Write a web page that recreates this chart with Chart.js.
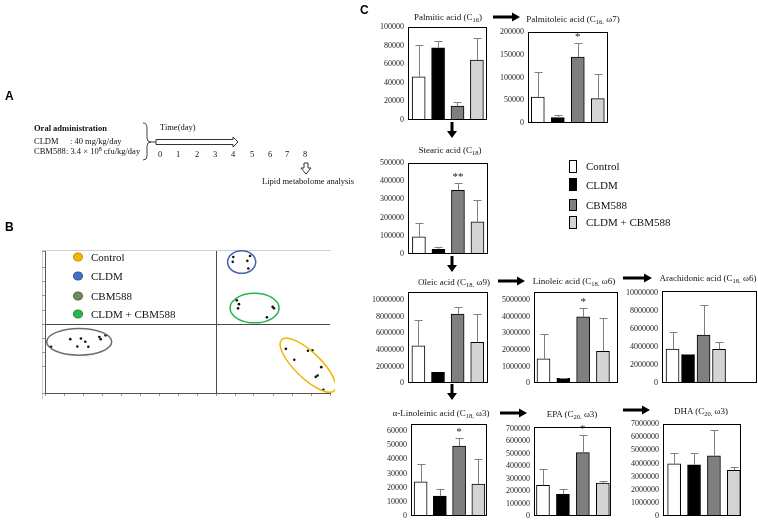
<!DOCTYPE html>
<html><head><meta charset="utf-8">
<script src="https://cdn.jsdelivr.net/npm/chart.js@4.4.1/dist/chart.umd.min.js"></script>
<style>
html,body{margin:0;padding:0;background:#fff;}
#root{position:relative;width:758px;height:520px;overflow:hidden;font-family:'Liberation Serif','Times New Roman',serif;color:#111;}
.t{position:absolute;white-space:nowrap;line-height:1;will-change:transform;}
.pl{font-family:'Liberation Sans',Arial,sans-serif;font-weight:bold;font-size:12px;color:#000;}
.ct{font-size:9px;transform:translate(-50%,-50%);color:#111;}
.a{font-size:8.5px;transform:translateY(-50%);}
.dn{font-size:8.5px;transform:translate(-50%,-50%);}
.lg{font-size:11px;transform:translateY(-50%);color:#111;}
.sq{position:absolute;border:1px solid #000;box-sizing:border-box;}
.dot{position:absolute;width:10px;height:9px;border-radius:50%;box-sizing:border-box;border:1px solid;transform:translate(-50%,-50%);}
canvas{position:absolute;}
sub{font-size:6.5px;vertical-align:-2px;line-height:0;}
sup{font-size:6px;vertical-align:3px;line-height:0;}
</style></head>
<body><div id="root">
  <div class="t pl" style="left:5px;top:90px">A</div>
  <div class="t pl" style="left:5px;top:221px">B</div>
  <div class="t pl" style="left:360px;top:4px">C</div>

  <!-- Panel A -->
  <div class="t a" style="left:34px;top:128px;font-weight:bold">Oral administration</div>
  <div class="t a" style="left:34px;top:141px">CLDM</div>
  <div class="t a" style="left:70px;top:141px">: 40 mg/kg/day</div>
  <div class="t a" style="left:34px;top:151px">CBM588</div>
  <div class="t a" style="left:66px;top:151px">: 3.4 × 10<sup>8</sup> cfu/kg/day</div>
  <div class="t a" style="left:160px;top:127px">Time(day)</div>
  <div id="days"></div>
  <div class="t dn" style="left:308px;top:181px">Lipid metabolome analysis</div>

  <!-- Panel B frame -->
  <div style="position:absolute;left:42px;top:250px;width:288px;height:148px;border-top:1px solid #cfcfcf;border-left:1px solid #cfcfcf;"></div>

  <!-- Panel C legend -->
  <div class="sq" style="left:569px;top:160px;width:8px;height:13px;background:#fff"></div>
  <div class="sq" style="left:569px;top:178px;width:8px;height:13px;background:#000"></div>
  <div class="sq" style="left:569px;top:199px;width:8px;height:12px;background:#7f7f7f"></div>
  <div class="sq" style="left:569px;top:216px;width:8px;height:13px;background:#d4d4d4"></div>
  <div class="t lg" style="left:586px;top:166px">Control</div>
  <div class="t lg" style="left:586px;top:185px">CLDM</div>
  <div class="t lg" style="left:586px;top:205px">CBM588</div>
  <div class="t lg" style="left:586px;top:222px">CLDM + CBM588</div>

  <svg id="ov" style="position:absolute;left:0;top:0" width="758" height="520"></svg>
</div>
<script>
// ---------- DATA ----------
const groups = ['Control', 'CLDM', 'CBM588', 'CLDM + CBM588'];
const barColors = ['#ffffff', '#000000', '#7f7f7f', '#d4d4d4'];

const palmiticMean = [46400, 77500, 15000, 64300];
const palmiticSD   = [34600, 7500, 4600, 23900];
const palmiticSig  = ['', '', '', ''];
const palmiticTicks = [0, 20000, 40000, 60000, 80000, 100000];

const palmitoleicMean = [57100, 11700, 145000, 53500];
const palmitoleicSD   = [54900, 5100, 31000, 53500];
const palmitoleicSig  = ['', '', '*', ''];
const palmitoleicTicks = [0, 50000, 100000, 150000, 200000];

const stearicMean = [94900, 25500, 350000, 177000];
const stearicSD   = [73100, 14600, 42000, 119000];
const stearicSig  = ['', '', '**', ''];
const stearicTicks = [0, 100000, 200000, 300000, 400000, 500000];

const oleicMean = [4500000, 1280000, 8320000, 4920000];
const oleicSD   = [3150000, 0, 880000, 3400000];
const oleicSig  = ['', '', '', ''];
const oleicTicks = [0, 2000000, 4000000, 6000000, 8000000, 10000000];

const linoleicMean = [1460000, 280000, 4000000, 1920000];
const linoleicSD   = [1480000, 40000, 560000, 1980000];
const linoleicSig  = ['', '', '*', ''];
const linoleicTicks = [0, 1000000, 2000000, 3000000, 4000000, 5000000];

const arachidonicMean = [3760000, 3140000, 5310000, 3730000];
const arachidonicSD   = [1840000, 110000, 3290000, 770000];
const arachidonicSig  = ['', '', '', ''];
const arachidonicTicks = [0, 2000000, 4000000, 6000000, 8000000, 10000000];

const aLinolenicMean = [24100, 14000, 49400, 22500];
const aLinolenicSD   = [12800, 5000, 5400, 17700];
const aLinolenicSig  = ['', '', '*', ''];
const aLinolenicTicks = [0, 10000, 20000, 30000, 40000, 50000, 60000];

const epaMean = [247000, 174000, 509000, 265000];
const epaSD   = [134000, 46000, 145000, 17000];
const epaSig  = ['', '', '*', ''];
const epaTicks = [0, 100000, 200000, 300000, 400000, 500000, 600000, 700000];

const dhaMean = [3960000, 3890000, 4580000, 3480000];
const dhaSD   = [800000, 940000, 1990000, 280000];
const dhaSig  = ['', '', '', ''];
const dhaTicks = [0, 1000000, 2000000, 3000000, 4000000, 5000000, 6000000, 7000000];

// PCA score plot
const pcaControlX = [3.68, 4.12, 4.84, 5.07, 5.54, 5.25, 5.35, 5.65];
const pcaControlY = [-1.76, -2.54, -1.90, -1.87, -3.06, -3.75, -3.65, -4.67];
const pcaCldmX = [0.91, 0.88, 1.65, 1.70, 1.79];
const pcaCldmY = [4.77, 4.43, 4.50, 3.96, 4.84];
const pcaCbmX = [-8.68, -7.67, -7.11, -6.88, -7.30, -6.72, -6.14, -6.07, -5.81];
const pcaCbmY = [-1.61, -1.07, -1.02, -1.26, -1.59, -1.61, -0.92, -1.07, -0.80];
const pcaComboX = [1.09, 1.21, 1.16, 2.98, 3.05, 2.68];
const pcaComboY = [1.69, 1.42, 1.12, 1.23, 1.12, 0.48];
const pcaLegendColors = ['#f7b500', '#4472c4', '#6f8b5e', '#2eb44b'];

const timelineDays = ['0', '1', '2', '3', '4', '5', '6', '7', '8'];

// ---------- LAYOUT ----------
const root = document.getElementById('root');
const ov = document.getElementById('ov');
const NS = 'http://www.w3.org/2000/svg';

// timeline day labels
const dayX = [160, 178, 197, 215, 233, 252, 270, 287, 305];
timelineDays.forEach((d, i) => {
  const el = document.createElement('div');
  el.className = 't dn'; el.style.left = dayX[i] + 'px'; el.style.top = '154px';
  el.textContent = d; root.appendChild(el);
});

function svgEl(tag, attrs) {
  const e = document.createElementNS(NS, tag);
  for (const k in attrs) e.setAttribute(k, attrs[k]);
  ov.appendChild(e); return e;
}
// Panel A decorations
svgEl('path', {d: 'M143,123 Q147,123 147,128 L147,138 Q147,142 151,142 Q147,142 147,146 L147,156 Q147,160 143,160', fill: 'none', stroke: '#444', 'stroke-width': 1});
svgEl('line', {x1: 151, y1: 142, x2: 156, y2: 142, stroke: '#444', 'stroke-width': 1});
svgEl('polygon', {points: '156,139.5 233,139.5 233,137 238,142 233,147 233,144.5 156,144.5', fill: '#fff', stroke: '#333', 'stroke-width': 1});
svgEl('polygon', {points: '304,163 308,163 308,168 311,168 306,174 301,168 304,168', fill: '#fff', stroke: '#333', 'stroke-width': 1});

// Panel C flow arrows
const hArrows = [[493, 520, 17], [498, 525, 281], [623, 652, 278], [500, 527, 413], [623, 650, 410]];
const vArrows = [[452, 122, 138], [452, 256, 272], [452, 384, 400]];
hArrows.forEach(([x1, x2, y]) => svgEl('polygon', {fill: '#000', points:
  `${x1},${y-1.5} ${x2-8},${y-1.5} ${x2-8},${y-4.5} ${x2},${y} ${x2-8},${y+4.5} ${x2-8},${y+1.5} ${x1},${y+1.5}`}));
vArrows.forEach(([x, y1, y2]) => svgEl('polygon', {fill: '#000', points:
  `${x-1.5},${y1} ${x-1.5},${y2-7} ${x-5},${y2-7} ${x},${y2} ${x+5},${y2-7} ${x+1.5},${y2-7} ${x+1.5},${y1}`}));

// ---------- BAR CHARTS ----------
const barDeco = {
  id: 'barDeco',
  afterDatasetsDraw(chart) {
    const {ctx, chartArea: a, scales: {y}} = chart;
    const ds = chart.data.datasets[0];
    const meta = chart.getDatasetMeta(0);
    ctx.save();
    ctx.strokeStyle = '#808080'; ctx.lineWidth = 1;
    meta.data.forEach((bar, i) => {
      const e = ds.sd[i];
      const v = ds.data[i].y;
      let yTop = y.getPixelForValue(v);
      if (e > 0) {
        const x = Math.round(bar.x) + 0.5;
        const y1 = Math.round(y.getPixelForValue(v + e)) + 0.5;
        ctx.beginPath();
        ctx.moveTo(x, yTop); ctx.lineTo(x, y1);
        ctx.moveTo(x - 4, y1); ctx.lineTo(x + 4, y1);
        ctx.stroke();
        yTop = y1;
      }
      if (ds.sig[i]) {
        ctx.fillStyle = '#222'; ctx.font = '11px "Liberation Serif"';
        ctx.textAlign = 'center'; ctx.textBaseline = 'bottom';
        ctx.fillText(ds.sig[i], bar.x, yTop - 1);
      }
    });
    ctx.strokeStyle = '#000'; ctx.lineWidth = 1;
    ctx.strokeRect(Math.round(a.left) + 0.5, Math.round(a.top) + 0.5,
      Math.round(a.right - a.left) - 1, Math.round(a.bottom - a.top) - 1);
    ctx.restore();
  }
};

function makeBarChart(cfg) {
  const [L, T, R, B] = cfg.box;
  const W = 50, pt = 8, pb = 4, pr = 3;
  const cv = document.createElement('canvas');
  const w = R - L + W + pr, h = B - T + pt + pb;
  cv.width = w; cv.height = h;
  cv.style.left = (L - W) + 'px'; cv.style.top = (T - pt) + 'px';
  cv.style.width = w + 'px'; cv.style.height = h + 'px';
  root.appendChild(cv);
  const tt = document.createElement('div');
  tt.className = 't ct'; tt.style.left = cfg.title[0] + 'px'; tt.style.top = cfg.title[1] + 'px';
  tt.innerHTML = cfg.name; root.appendChild(tt);
  new Chart(cv, {
    type: 'bar',
    data: {
      labels: groups,
      datasets: [{
        data: cfg.mean.map((v, i) => ({x: i, y: v})),
        sd: cfg.sd, sig: cfg.sig,
        backgroundColor: barColors, borderColor: '#000', borderWidth: 1,
        borderSkipped: 'bottom', barThickness: 13
      }]
    },
    options: {
      responsive: false, animation: false, devicePixelRatio: 1,
      layout: {padding: {left: 0, top: pt, right: pr, bottom: pb}},
      plugins: {legend: {display: false}, tooltip: {enabled: false}},
      scales: {
        x: {type: 'linear', display: false, min: cfg.x[0], max: cfg.x[1], offset: false},
        y: {
          min: 0, max: cfg.max,
          afterBuildTicks: s => { s.ticks = cfg.ticks.map(v => ({value: v})); },
          afterFit: s => { s.width = W; s.paddingTop = 0; s.paddingBottom = 0; },
          grid: {display: false, drawTicks: false},
          border: {display: false},
          ticks: {padding: 4, color: '#222', font: {family: 'Liberation Serif', size: 8}, callback: v => String(v)}
        }
      }
    },
    plugins: [barDeco]
  });
}

makeBarChart({name: 'Palmitic acid (C<sub>16</sub>)', box: [408, 27, 487, 120], title: [448, 17], x: [-0.55, 3.52], max: 100000,
  mean: palmiticMean, sd: palmiticSD, sig: palmiticSig, ticks: palmiticTicks});
makeBarChart({name: 'Palmitoleic acid (C<sub>16,</sub> ω7)', box: [528, 32, 608, 123], title: [573, 19], x: [-0.49, 3.51], max: 200000,
  mean: palmitoleicMean, sd: palmitoleicSD, sig: palmitoleicSig, ticks: palmitoleicTicks});
makeBarChart({name: 'Stearic acid (C<sub>18</sub>)', box: [408, 163, 488, 254], title: [450, 150], x: [-0.56, 3.54], max: 500000,
  mean: stearicMean, sd: stearicSD, sig: stearicSig, ticks: stearicTicks});
makeBarChart({name: 'Oleic acid (C<sub>18,</sub> ω9)', box: [408, 292, 488, 383], title: [454, 282], x: [-0.53, 3.55], max: 11000000,
  mean: oleicMean, sd: oleicSD, sig: oleicSig, ticks: oleicTicks});
makeBarChart({name: 'Linoleic acid (C<sub>18,</sub> ω6)', box: [534, 292, 618, 383], title: [574, 281], x: [-0.48, 3.76], max: 5500000,
  mean: linoleicMean, sd: linoleicSD, sig: linoleicSig, ticks: linoleicTicks});
makeBarChart({name: 'Arachidonic acid (C<sub>18,</sub> ω6)', box: [662, 291, 757, 383], title: [708, 278], x: [-0.68, 5.45], max: 10200000,
  mean: arachidonicMean, sd: arachidonicSD, sig: arachidonicSig, ticks: arachidonicTicks});
makeBarChart({name: 'α-Linoleinic acid (C<sub>18,</sub> ω3)', box: [411, 424, 487, 516], title: [441, 413], x: [-0.5, 3.45], max: 65000,
  mean: aLinolenicMean, sd: aLinolenicSD, sig: aLinolenicSig, ticks: aLinolenicTicks});
makeBarChart({name: 'EPA (C<sub>20,</sub> ω3)', box: [534, 427, 611, 516], title: [572, 414], x: [-0.45, 3.41], max: 715000,
  mean: epaMean, sd: epaSD, sig: epaSig, ticks: epaTicks});
makeBarChart({name: 'DHA (C<sub>20,</sub> ω3)', box: [663, 424, 741, 516], title: [701, 411], x: [-0.56, 3.36], max: 7000000,
  mean: dhaMean, sd: dhaSD, sig: dhaSig, ticks: dhaTicks});

// ---------- PCA SCORE PLOT ----------
const pcaEllipses = [
  {cx: -7.20, cy: -1.26, rx: 1.71, ry: 0.95, rot: 0, color: '#6e6e6e'},
  {cx: 1.35, cy: 4.41, rx: 0.74, ry: 0.80, rot: 0, color: '#3f63ad'},
  {cx: 2.03, cy: 1.14, rx: 1.29, ry: 1.05, rot: 0, color: '#27b44a'},
  {cx: 4.84, cy: -2.92, rx: 1.93, ry: 0.92, rot: 44, color: '#f5b400'}
];
const ellipsePlugin = {
  id: 'ellipses',
  afterDatasetsDraw(chart) {
    const {ctx, scales: {x, y}} = chart;
    ctx.save();
    pcaEllipses.forEach(e => {
      const px = x.getPixelForValue(e.cx), py = y.getPixelForValue(e.cy);
      const a = Math.abs(x.getPixelForValue(e.cx + e.rx) - px);
      const b = Math.abs(y.getPixelForValue(e.cy + e.ry) - py);
      ctx.beginPath();
      ctx.ellipse(px, py, a, b, e.rot * Math.PI / 180, 0, 2 * Math.PI);
      ctx.strokeStyle = e.color; ctx.lineWidth = 1.5; ctx.stroke();
    });
    ctx.restore();
  }
};
(function () {
  const cv = document.createElement('canvas');
  const w = 295, h = 152;
  cv.width = w; cv.height = h;
  cv.style.left = '40px'; cv.style.top = '246px';
  cv.style.width = w + 'px'; cv.style.height = h + 'px';
  root.appendChild(cv);
  const pts = (xs, ys) => xs.map((v, i) => ({x: v, y: ys[i]}));
  const dsBase = {pointRadius: 1.3, pointBackgroundColor: '#111', pointBorderWidth: 0, showLine: false};
  const zeroGrid = {
    color: c => (c.tick && Math.abs(c.tick.value) < 1e-9) ? '#4a4a4a' : 'rgba(0,0,0,0)',
    tickColor: '#9a9a9a', tickLength: 3, lineWidth: 1
  };
  new Chart(cv, {
    type: 'scatter',
    data: {datasets: [
      Object.assign({label: groups[0], data: pts(pcaControlX, pcaControlY)}, dsBase),
      Object.assign({label: groups[1], data: pts(pcaCldmX, pcaCldmY)}, dsBase),
      Object.assign({label: groups[2], data: pts(pcaCbmX, pcaCbmY)}, dsBase),
      Object.assign({label: groups[3], data: pts(pcaComboX, pcaComboY)}, dsBase)
    ]},
    options: {
      responsive: false, animation: false, devicePixelRatio: 1,
      layout: {padding: {left: 0, top: 5, right: 5, bottom: 0}},
      plugins: {legend: {display: false}, tooltip: {enabled: false}},
      scales: {
        x: {type: 'linear', min: -9, max: 6, ticks: {display: false, stepSize: 1},
            afterFit: s => { s.height = 5; s.paddingLeft = 0; s.paddingRight = 0; },
            grid: zeroGrid, border: {display: true, color: '#555'}},
        y: {type: 'linear', min: -4.9, max: 5.2, ticks: {display: false, stepSize: 1},
            afterFit: s => { s.width = 5; s.paddingTop = 0; s.paddingBottom = 0; },
            grid: zeroGrid, border: {display: true, color: '#555'}}
      }
    },
    plugins: [ellipsePlugin]
  });
  // legend inside plot
  const ly = [257, 276, 296, 314];
  const borders = ['#c48f00', '#2f528f', '#4e6640', '#1d8a35'];
  groups.forEach((g, i) => {
    const d = document.createElement('div');
    d.className = 'dot';
    d.style.left = '78px'; d.style.top = ly[i] + 'px';
    d.style.background = pcaLegendColors[i]; d.style.borderColor = borders[i];
    root.appendChild(d);
    const t = document.createElement('div');
    t.className = 't lg'; t.style.left = '91px'; t.style.top = ly[i] + 'px';
    t.textContent = g; root.appendChild(t);
  });
})();
</script>
</body></html>
